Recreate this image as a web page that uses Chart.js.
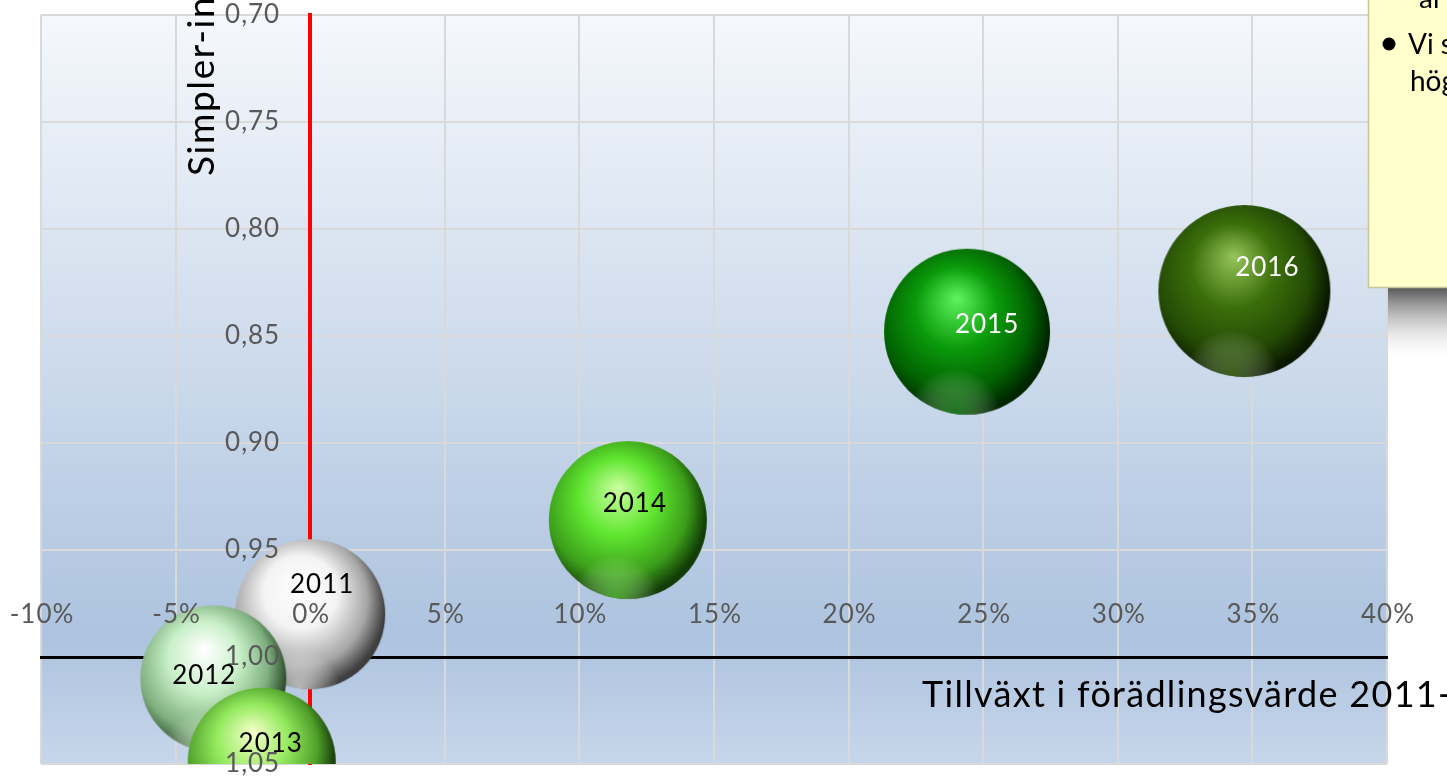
<!DOCTYPE html>
<html>
<head>
<meta charset="utf-8">
<script src="https://cdn.jsdelivr.net/npm/chart.js@4.4.1/dist/chart.umd.min.js"></script>
<style>
  html, body { margin: 0; padding: 0; background: #fff; }
  #wrap { width: 1447px; height: 778px; position: relative; }
</style>
</head>
<body>
<div id="wrap"><canvas id="chart"></canvas></div>
<script>
// data
const years = ["2011", "2012", "2013", "2014", "2015", "2016"]
const growth = [0.0, -3.6, -1.8, 11.8, 24.4, 34.7] // tillväxt i förädlingsvärde, %
const simpler = [0.980, 1.010, 1.049, 0.936, 0.848, 0.829] // Simpler-index
const bubbleSize = [75, 73, 74, 79, 83, 86]

const xMin = -10, xMax = 40, xStep = 5
const yMin = 0.70, yMax = 1.05, yStep = 0.05

const xTitle = "Tillväxt i förädlingsvärde 2011-2016"
const yTitle = "Simpler-index"
const noteLines = ["ar", "Vi s", "hög"]

// sphere colours: highlight, body, shade, rim, bottom reflection
const sphereColors = [
  ["#ffffff", "#f4f4f4", "#a6a6a6", "#3f3f3f", "rgba(235,235,235,0.7)"],
  ["#ffffff", "#c9f0c9", "#7fb07f", "#2f4f2f", "rgba(200,240,200,0.7)"],
  ["#f4ffc8", "#94ea5e", "#4f9e2a", "#17380a", "rgba(140,230,90,0.6)"],
  ["#c9ff9e", "#5fe630", "#3c9e1a", "#123d06", "rgba(100,235,60,0.6)"],
  ["#5cf25c", "#0b9b0b", "#026202", "#002600", "rgba(40,170,40,0.6)"],
  ["#93c257", "#3b6f0b", "#244a05", "#0a1800", "rgba(100,150,45,0.55)"],
]
const labelColors = ["#000", "#000", "#000", "#000", "#fff", "#fff"]
const labelShift = [[11, -30], [-10, -3], [8, -18], [6, -16], [19, -7], [22, -23]]

const FONT = "Lato, 'Open Sans', sans-serif"

// pre-rendered glossy sphere, used as the bubble's point style
function sphereImage(i) {
  const r = bubbleSize[i]
  const col = sphereColors[i]
  const size = Math.ceil(r * 2) + 2
  const c = document.createElement("canvas")
  c.width = c.height = size
  const g2 = c.getContext("2d")
  const m = size / 2
  g2.beginPath()
  g2.arc(m, m, r, 0, Math.PI * 2)
  g2.clip()
  const g = g2.createRadialGradient(m - r * 0.12, m - r * 0.4, r * 0.02, m - r * 0.14, m - r * 0.14, r * 1.14)
  g.addColorStop(0, col[0])
  g.addColorStop(0.42, col[1])
  g.addColorStop(0.78, col[2])
  g.addColorStop(1, col[3])
  g2.fillStyle = g
  g2.fillRect(0, 0, size, size)
  // soft reflection along the lower edge
  const rg = g2.createRadialGradient(m - r * 0.15, m + r * 1.0, 0, m - r * 0.15, m + r * 1.0, r * 0.55)
  rg.addColorStop(0, col[4])
  rg.addColorStop(1, "rgba(255,255,255,0)")
  g2.fillStyle = rg
  g2.fillRect(0, 0, size, size)
  return c
}
const spheres = years.map((y, i) => sphereImage(i))

const fmtX = (v) => Math.round(v) + "%"
const fmtY = (v) => v.toFixed(2).replace(".", ",")

// plot background gradient
const backdrop = {
  id: "backdrop",
  beforeDraw(chart) {
    const { ctx, chartArea: a } = chart
    ctx.save()
    const g = ctx.createLinearGradient(0, a.top, 0, a.bottom)
    g.addColorStop(0, "#f5f8fc")
    g.addColorStop(0.83, "#adc3df")
    g.addColorStop(1, "#c7d6ea")
    ctx.fillStyle = g
    ctx.fillRect(a.left, a.top, a.right - a.left, a.bottom - a.top)
    ctx.restore()
  },
}

// tick labels and bubble labels go on top of the bubbles
const overlay = {
  id: "overlay",
  afterDatasetsDraw(chart) {
    const { ctx } = chart
    const xs = chart.scales.x, ys = chart.scales.y
    const axisY = ys.getPixelForValue(1.0)
    const axisX = xs.getPixelForValue(0)
    ctx.save()
    ctx.font = "26px " + FONT
    ctx.letterSpacing = "1px"
    ctx.fillStyle = "#595959"
    ctx.textBaseline = "middle"
    ctx.textAlign = "center"
    xs.ticks.forEach((t) => {
      ctx.fillText(fmtX(t.value), xs.getPixelForValue(t.value) + 1, axisY - 42)
    })
    ctx.textAlign = "right"
    ys.ticks.forEach((t) => {
      ctx.fillText(fmtY(t.value), axisX - 30, ys.getPixelForValue(t.value))
    })

    const meta = chart.getDatasetMeta(0)
    ctx.textAlign = "center"
    meta.data.forEach((el, i) => {
      ctx.fillStyle = labelColors[i]
      ctx.fillText(years[i], el.x + labelShift[i][0] + 1, el.y + labelShift[i][1])
    })
    ctx.restore()
  },
  afterDraw(chart) {
    const { ctx } = chart
    ctx.save()
    // axis titles
    ctx.fillStyle = "#000"
    ctx.font = "36px " + FONT
    ctx.letterSpacing = "1.3px"
    ctx.textAlign = "left"
    ctx.textBaseline = "alphabetic"
    ctx.fillText(xTitle, 922, 707)
    ctx.font = "37px " + FONT
    ctx.letterSpacing = "1.6px"
    ctx.translate(214, 176)
    ctx.rotate(-Math.PI / 2)
    ctx.fillText(yTitle, 0, 0)
    ctx.restore()

    // note box at the top right
    ctx.save()
    const sg = ctx.createLinearGradient(0, 288, 0, 362)
    sg.addColorStop(0, "rgba(80,80,80,0.95)")
    sg.addColorStop(0.5, "rgba(170,170,170,0.5)")
    sg.addColorStop(1, "rgba(255,255,255,0)")
    ctx.fillStyle = sg
    ctx.fillRect(1388, 288, 60, 74)
    ctx.fillStyle = "#ffffcc"
    ctx.fillRect(1368, -5, 90, 292)
    ctx.strokeStyle = "#c6c49c"
    ctx.lineWidth = 1.5
    ctx.strokeRect(1368.5, -5, 90, 292.5)
    ctx.fillStyle = "#000"
    ctx.font = "28px " + FONT
    ctx.fillText(noteLines[0], 1419, 8)
    ctx.fillText(noteLines[1], 1408, 54)
    ctx.fillText(noteLines[2], 1410, 91)
    ctx.beginPath()
    ctx.arc(1389, 44, 6.5, 0, Math.PI * 2)
    ctx.fill()
    ctx.restore()
  },
}

const ctx = document.getElementById("chart").getContext("2d")
new Chart(ctx, {
  type: "bubble",
  data: {
    datasets: [
      {
        label: "Simpler-index",
        data: years.map((y, i) => ({ x: growth[i], y: simpler[i], r: bubbleSize[i] })),
        pointStyle: (c) => spheres[c.dataIndex],
        backgroundColor: (c) => sphereColors[c.dataIndex][1],
        borderWidth: 0,
      },
    ],
  },
  options: {
    responsive: true,
    maintainAspectRatio: false,
    animation: false,
    events: [],
    layout: { autoPadding: false, padding: { left: 41, right: 60, top: 15, bottom: 14 } },
    plugins: {
      legend: { display: false },
      tooltip: { enabled: false },
    },
    scales: {
      x: {
        type: "linear",
        min: xMin,
        max: xMax,
        position: { y: 1.0 },
        ticks: { display: false, stepSize: xStep },
        grid: { color: "#d9d9d9", lineWidth: 2, drawTicks: false },
        border: { color: "#000", width: 3 },
      },
      y: {
        type: "linear",
        min: yMin,
        max: yMax,
        reverse: true,
        position: { x: 0 },
        ticks: { display: false, stepSize: yStep },
        grid: { color: "#d9d9d9", lineWidth: 2, drawTicks: false },
        border: { color: "#ff0000", width: 4 },
      },
    },
  },
  plugins: [backdrop, overlay],
})
</script>
</body>
</html>
